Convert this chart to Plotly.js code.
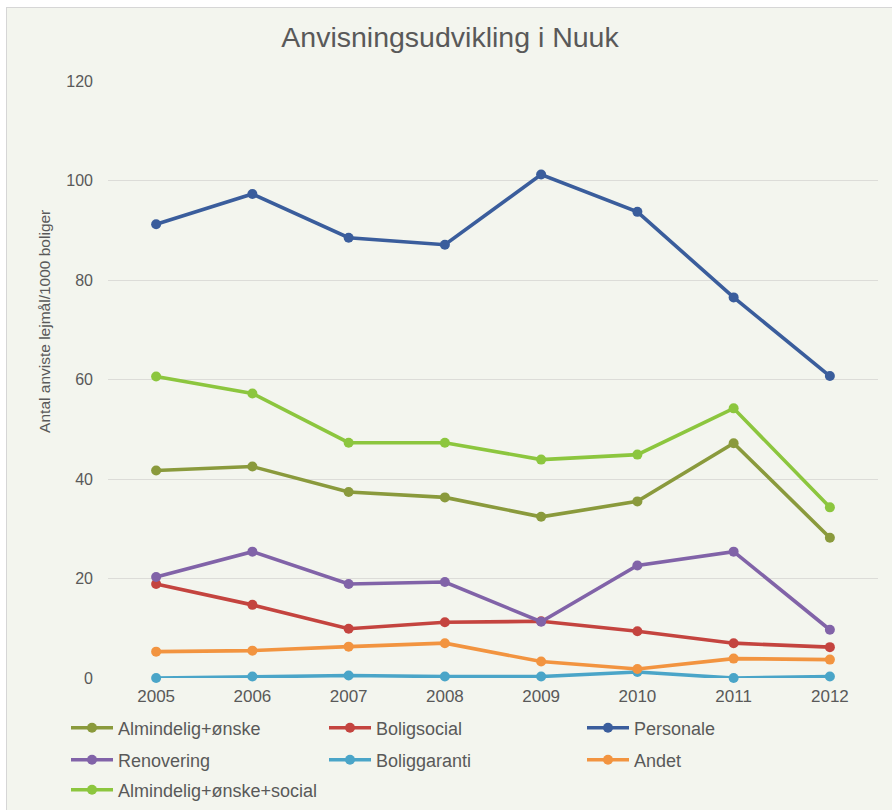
<!DOCTYPE html>
<html>
<head>
<meta charset="utf-8">
<script src="https://cdn.plot.ly/plotly-3.0.1.min.js"></script>
<style>
html, body { margin: 0; padding: 0; background: #ffffff; width: 892px; height: 810px; overflow: hidden; }
#frame { position: absolute; left: 6px; top: 7px; width: 886px; height: 803px; border-left: 1px solid #d6d6d6; border-top: 1px solid #d6d6d6; }
#chart { width: 886px; height: 803px; }
</style>
</head>
<body>
<div id="frame"><div id="chart"></div></div>
<script>
var years = ['2005', '2006', '2007', '2008', '2009', '2010', '2011', '2012'];

var almindeligOenske = [41.7, 42.5, 37.4, 36.3, 32.4, 35.5, 47.2, 28.2];
var boligsocial = [18.9, 14.7, 9.9, 11.2, 11.4, 9.4, 7.0, 6.2];
var personale = [91.2, 97.3, 88.5, 87.1, 101.2, 93.7, 76.5, 60.7];
var renovering = [20.3, 25.4, 18.9, 19.3, 11.3, 22.6, 25.4, 9.7];
var boliggaranti = [0.0, 0.3, 0.5, 0.3, 0.3, 1.2, 0.0, 0.3];
var andet = [5.3, 5.5, 6.3, 7.0, 3.3, 1.8, 3.9, 3.7];
var almindeligOenskeSocial = [60.6, 57.2, 47.3, 47.3, 43.9, 44.9, 54.2, 34.3];

var seriesNames = ['Almindelig+ønske', 'Boligsocial', 'Personale', 'Renovering', 'Boliggaranti', 'Andet', 'Almindelig+ønske+social'];
var seriesValues = [almindeligOenske, boligsocial, personale, renovering, boliggaranti, andet, almindeligOenskeSocial];
var seriesColors = ['#8a9a3c', '#c4443f', '#3a5d9c', '#8163a8', '#4aa5c8', '#f29440', '#8cc63e'];

var titleText = 'Anvisningsudvikling i Nuuk';
var yTitleText = 'Antal anviste lejmål/1000 boliger';

var textColor = '#595959';
var fontFam = 'Liberation Sans, Arial, sans-serif';
var H = 803;
var W = 886;

// legend grid: 3 columns, rows
var legendColX = [66, 324, 582];
var legendRowY = [728, 760, 790];

var traces = seriesNames.map(function (name, i) {
  return {
    type: 'scatter',
    mode: 'lines+markers',
    name: name,
    x: years,
    y: seriesValues[i],
    line: { color: seriesColors[i], width: 3.6 },
    marker: { color: seriesColors[i], size: 10 },
    cliponaxis: false,
    legend: i === 0 ? 'legend' : 'legend' + (i + 1)
  };
});

function legendAt(px, py) {
  return {
    orientation: 'h',
    x: (px - 7) / W,
    xref: 'container',
    xanchor: 'left',
    y: 1 - (py - 8) / H,
    yref: 'container',
    yanchor: 'middle',
    itemwidth: 42,
    bgcolor: 'rgba(0,0,0,0)',
    font: { family: fontFam, size: 18, color: textColor }
  };
}

var layout = {
  width: W,
  height: H,
  paper_bgcolor: '#f3f5ee',
  plot_bgcolor: '#f3f5ee',
  margin: { l: 101, r: 15, t: 73, b: 133 },
  font: { family: fontFam, color: textColor, size: 16 },
  title: {
    text: titleText,
    font: { family: fontFam, size: 28.5, color: textColor },
    x: 0.5, xanchor: 'center',
    y: 1 - 29 / H, yanchor: 'middle', yref: 'container'
  },
  xaxis: {
    type: 'category',
    range: [-0.5, 7.5],
    showgrid: false,
    zeroline: false,
    showline: false,
    ticks: '',
    tickfont: { size: 17, color: textColor },
    ticklabelstandoff: 6
  },
  yaxis: {
    range: [0, 120],
    dtick: 20,
    tick0: 0,
    showgrid: true,
    gridcolor: '#dcdcd8',
    gridwidth: 1,
    zeroline: false,
    showline: false,
    ticks: '',
    tickfont: { size: 16, color: textColor },
    ticklabelstandoff: 14
  },
  annotations: [{
    text: yTitleText,
    textangle: -90,
    xref: 'paper', yref: 'paper',
    x: (45 - 108) / 770, y: (678.3 - 322) / 597.3,
    xanchor: 'center', yanchor: 'middle',
    showarrow: false,
    font: { family: fontFam, size: 15.5, color: textColor }
  }],
  showlegend: true
};

seriesNames.forEach(function (name, i) {
  var key = i === 0 ? 'legend' : 'legend' + (i + 1);
  layout[key] = legendAt(legendColX[i % 3], legendRowY[Math.floor(i / 3)]);
});

Plotly.newPlot('chart', traces, layout, { displayModeBar: false, staticPlot: true });
</script>
</body>
</html>
